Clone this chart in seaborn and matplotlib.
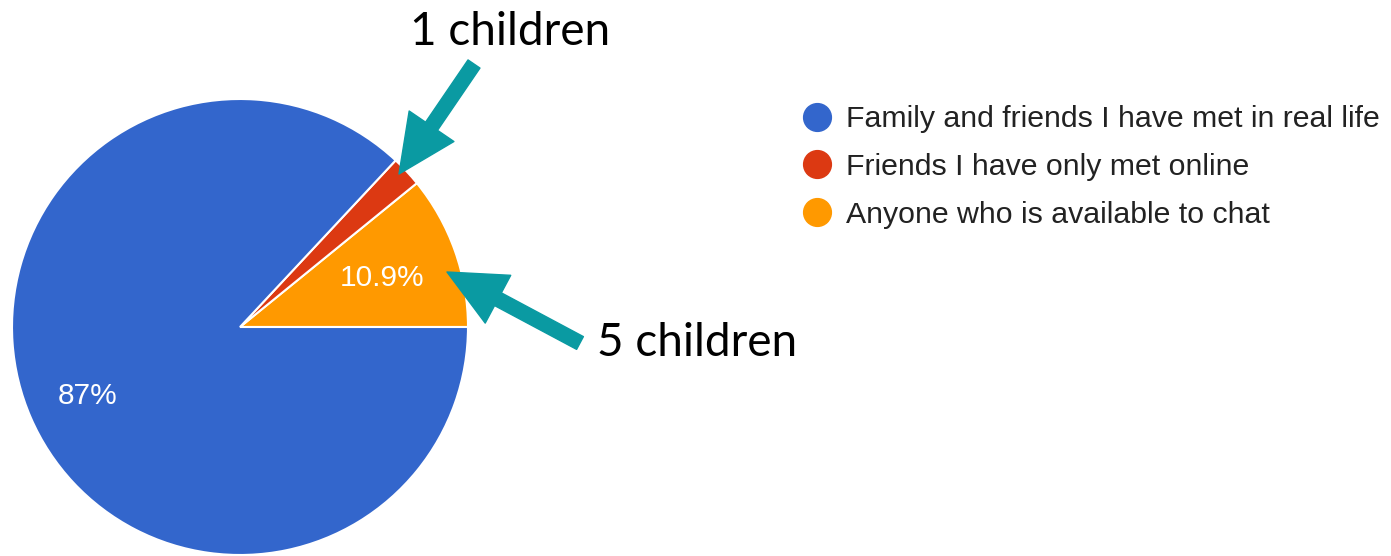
import matplotlib
matplotlib.use("Agg")
import matplotlib.pyplot as plt
import seaborn as sns
from matplotlib.lines import Line2D

# Survey answers (46 children), pie drawn counter-clockwise from 3 o'clock
answers = ["Anyone who is available to chat", "Friends I have only met online",
           "Family and friends I have met in real life"]
counts = [5, 1, 40]
colors = ["#ff9900", "#dc3912", "#3366cc"]
pct_labels = ["10.9%", "", "87%"]

legend_order = [2, 1, 0]
callouts = ["5 children", "1 children"]

sns.set_theme(style="white")
plt.rcParams["font.family"] = ["Liberation Sans", "DejaVu Sans"]

fig = plt.figure(figsize=(13.91, 5.56), dpi=100)
ax = fig.add_axes([0, 0, 1, 1])
ax.set_xlim(0, 1391)
ax.set_ylim(0, 556)
ax.set_aspect("equal")
ax.axis("off")

wedges, _ = ax.pie(counts, colors=colors, startangle=0, counterclock=True,
                   center=(240, 229), radius=228,
                   wedgeprops=dict(edgecolor="white", linewidth=1.5))
ax.set_xlim(0, 1391)
ax.set_ylim(0, 556)

# percentage labels
ax.text(382, 556 - 278, pct_labels[0], color="white", fontsize=21.5,
        ha="center", va="center")
ax.text(88, 556 - 396, pct_labels[2], color="white", fontsize=21.5,
        ha="center", va="center")

# legend
handles = [Line2D([], [], marker="o", linestyle="", markersize=20,
                  markerfacecolor=colors[i], markeredgecolor=colors[i])
           for i in legend_order]
ax.legend(handles, [answers[i] for i in legend_order], loc="upper left",
          bbox_to_anchor=(790 / 1391, 1 - 93 / 556), frameon=False,
          fontsize=21.8, labelcolor="#222222", handletextpad=0.45,
          labelspacing=0.66, borderaxespad=0, handlelength=1.0)

# call-outs
teal = "#0a9aa2"
arrow = dict(arrowstyle="simple,head_length=1.6,head_width=1.5,tail_width=0.4",
             color=teal, mutation_scale=26, shrinkA=0, shrinkB=0)
ax.annotate("", xy=(399, 556 - 174), xytext=(474, 556 - 64), arrowprops=arrow)
ax.annotate("", xy=(447, 556 - 272), xytext=(580, 556 - 343), arrowprops=arrow)

ax.text(510, 556 - 32, callouts[1], fontsize=33, family="Lato",
        ha="center", va="center", color="black")
ax.text(697, 556 - 343, callouts[0], fontsize=33, family="Lato",
        ha="center", va="center", color="black")

fig.savefig("out.png", dpi=100, facecolor="white")
